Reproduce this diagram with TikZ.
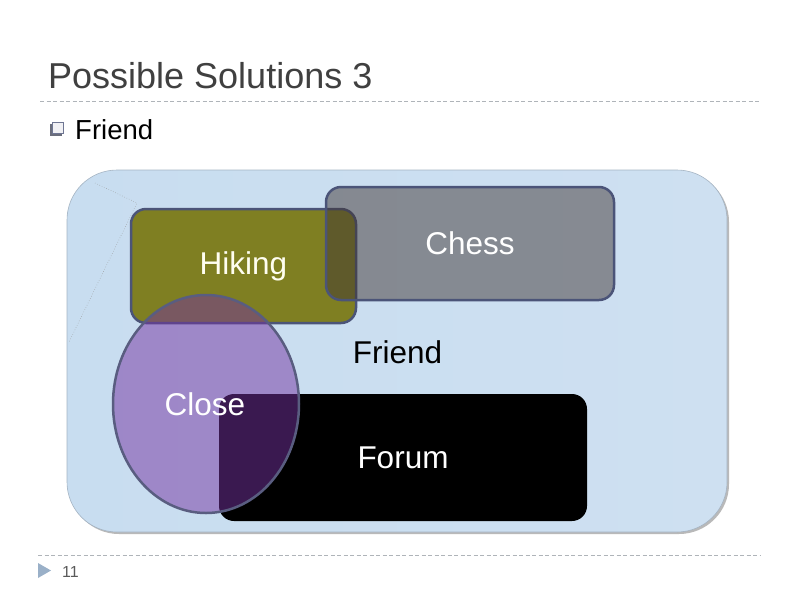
\documentclass[tikz,border=0pt]{standalone}
\usepackage{fontspec}
\setmainfont{Liberation Sans}
\usetikzlibrary{shapes.geometric}
\definecolor{titlegray}{RGB}{64,64,64}
\definecolor{rulegray}{RGB}{175,180,185}
\definecolor{bgblueA}{RGB}{200,221,240}
\definecolor{bgblueB}{RGB}{184,211,236}
\definecolor{bgblueC}{RGB}{206,224,241}
\definecolor{bgedge}{RGB}{165,180,195}
\definecolor{olivefill}{RGB}{127,127,34}
\definecolor{slateedge}{RGB}{75,84,120}
\definecolor{chessfill}{RGB}{64,54,52}
\definecolor{purplefill}{RGB}{116,51,161}
\definecolor{ellipseedge}{RGB}{89,93,128}
\definecolor{arrowblue}{RGB}{154,176,200}
\definecolor{numgray}{RGB}{90,90,90}
\tikzset{
  bigtext/.style={font=\fontsize{31.5}{36}\selectfont},
  setbox/.style={rounded corners=15pt, line width=2.5pt, draw=slateedge, inner sep=0pt},
  dashrule/.style={draw=rulegray, line width=0.8pt, dash pattern=on 4pt off 2.5pt},
}
\begin{document}
\begin{tikzpicture}[x=1pt,y=-1pt]
\useasboundingbox (0,0) rectangle (800,600);
% title
\node[anchor=base west, inner sep=0pt, text=titlegray, font=\fontsize{36}{40}\selectfont] (title) at (48,88) {Possible Solutions 3};
\coordinate (r1a) at (40,101);
\coordinate (r1b) at (760,101);
\draw[dashrule] (r1a) -- (r1b);
% bullet
\fill[gray!60!slateedge] (50,124) rectangle (62,136);
\filldraw[fill=white!92!slateedge, draw=slateedge!80, line width=0.6pt] (52,122) rectangle (63,133);
\node[anchor=base west, inner sep=0pt, font=\fontsize{27.5}{32}\selectfont] (bullet) at (75,139) {Friend};
% background rounded rectangle with slight shadow
\fill[gray!55, rounded corners=50pt] (69,172) rectangle (729,534);
\shade[rounded corners=50pt, left color=bgblueA, middle color=bgblueB, right color=bgblueC]
  (67,170) rectangle (727,532);
\draw[bgedge, line width=0.6pt, rounded corners=50pt] (67,170) rectangle (727,532);
% dotted lines
\coordinate (d1) at (95,183);
\coordinate (d2) at (137,203);
\coordinate (d3) at (69,342);
\draw[gray!80, line width=0.5pt, dotted] (d1) -- (d2) -- (d3);
% sets
\node[setbox, fill=olivefill, minimum width=225pt, minimum height=114pt, text=white!94!yellow, bigtext] (hiking) at (243.5,266) {Hiking};
\node[setbox, fill=chessfill, fill opacity=0.5, text opacity=1, minimum width=288pt, minimum height=113pt, text=white, bigtext] (chess) at (470,243.5) {Chess};
\node[rounded corners=15pt, fill=black, inner sep=0pt, minimum width=368pt, minimum height=127pt] (forumbox) at (403,457.5) {};
\node[ellipse, draw=ellipseedge, line width=2.5pt, fill=purplefill, fill opacity=0.5, inner sep=0pt, minimum width=186pt, minimum height=218pt] (close) at (206,404) {};
\node[anchor=center, text=white, bigtext, inner sep=0pt] (closelabel) at (205,404) {Close};
\node[anchor=center, text=white, bigtext, inner sep=0pt] (forumlabel) at (403,458) {Forum};
\node[anchor=center, text=black, bigtext, inner sep=0pt] (friend) at (397.5,352) {Friend};
% footer
\coordinate (r2a) at (38,555);
\coordinate (r2b) at (760,555);
\draw[dashrule] (r2a) -- (r2b);
\fill[arrowblue] (38,563) -- (51,570.5) -- (38,578) -- cycle;
\node[anchor=base west, inner sep=0pt, text=numgray, font=\fontsize{16}{18}\selectfont] (pagenum) at (62,577) {11};
\end{tikzpicture}
\end{document}
